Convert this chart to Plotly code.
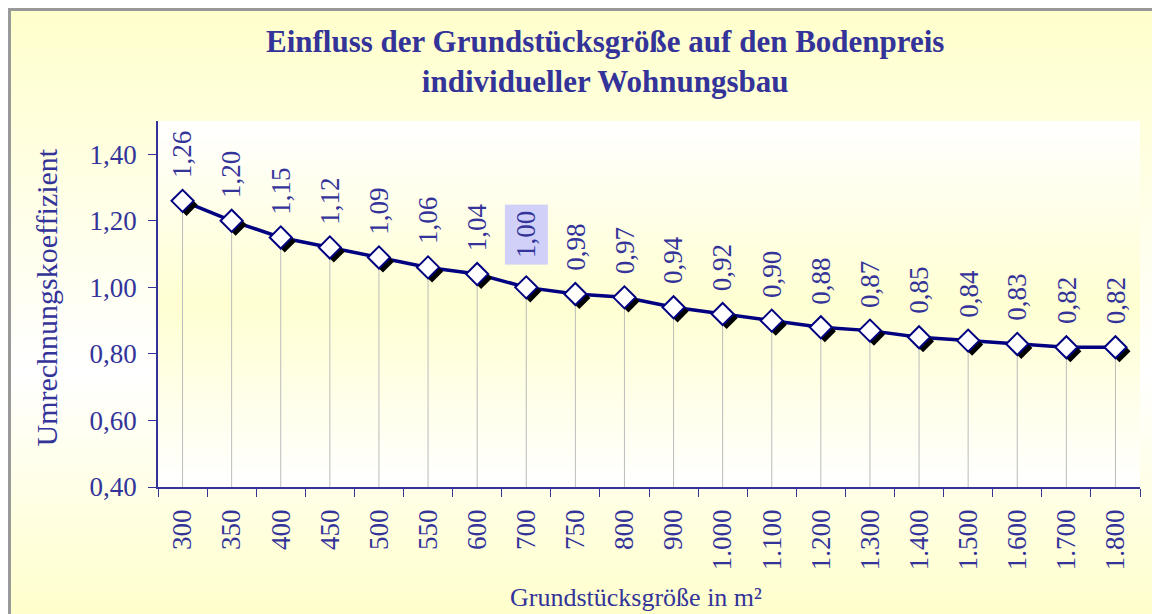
import base64
import plotly.graph_objects as go

# Grundstücksgröße (m²) und Umrechnungskoeffizient
groessen = ["300", "350", "400", "450", "500", "550", "600", "700", "750", "800",
            "900", "1.000", "1.100", "1.200", "1.300", "1.400", "1.500", "1.600",
            "1.700", "1.800"]
koeffizienten = [1.26, 1.20, 1.15, 1.12, 1.09, 1.06, 1.04, 1.00, 0.98, 0.97,
                 0.94, 0.92, 0.90, 0.88, 0.87, 0.85, 0.84, 0.83, 0.82, 0.82]
markiert = "700"  # hervorgehobenes Datenlabel

y_min, y_max = 0.40, 1.50
TXT = "#333399"
NAVY = "#000080"
FONT = "Liberation Serif"

# Plotbereich in Seitenpixeln (die Seite hat 8px Rand oben/links)
PL, PR, PT, PB = 158, 1140, 121, 487


def px(x):
    return (x - PL) / (PR - PL)


def py(y):
    return (PB - y) / (PB - PT)


def svg_gradient(stops):
    parts = "".join(
        f'<stop offset="{o}" stop-color="{c}"/>' for o, c in stops
    )
    svg = (
        '<svg xmlns="http://www.w3.org/2000/svg" width="100" height="100" '
        'preserveAspectRatio="none">'
        f'<defs><linearGradient id="g" x1="0" y1="0" x2="0" y2="1">{parts}'
        '</linearGradient></defs>'
        '<rect width="100" height="100" fill="url(#g)"/></svg>'
    )
    return "data:image/svg+xml;base64," + base64.b64encode(svg.encode()).decode()


idx = list(range(len(groessen)))
px_x = (PR - PL) / len(groessen)
px_y = (PB - PT) / (y_max - y_min)
shadow_x = [i + 4 / px_x for i in idx]
shadow_y = [v - 4 / px_y for v in koeffizienten]

fig = go.Figure()

# Lotlinien zur x-Achse (Kategorieachse)
fig.add_trace(go.Scatter(
    x=groessen, y=koeffizienten, mode="markers",
    marker=dict(size=1, color="rgba(0,0,0,0)"),
    error_y=dict(type="data", symmetric=False,
                 array=[0] * len(koeffizienten),
                 arrayminus=[v - y_min for v in koeffizienten],
                 color="#BBBBBB", thickness=1, width=0),
    hoverinfo="skip", showlegend=False,
))

fig.add_trace(go.Scatter(
    x=idx, y=koeffizienten, xaxis="x2", mode="lines",
    line=dict(color=NAVY, width=3.5),
    hoverinfo="skip", showlegend=False,
))

# Schatten der Marker
fig.add_trace(go.Scatter(
    x=shadow_x, y=shadow_y, xaxis="x2", mode="markers",
    marker=dict(symbol="diamond", size=17, color="black",
                line=dict(color="black", width=0)),
    hoverinfo="skip", showlegend=False,
))

fig.add_trace(go.Scatter(
    x=idx, y=koeffizienten, xaxis="x2", mode="markers",
    marker=dict(symbol="diamond", size=17, color="white",
                line=dict(color=NAVY, width=2)),
    customdata=groessen,
    hovertemplate="%{customdata} m²: %{y:.2f}<extra></extra>",
    showlegend=False,
))

annotations = []
for i, g, v in zip(idx, groessen, koeffizienten):
    lab = f"{v:.2f}".replace(".", ",")
    annotations.append(dict(
        x=i, y=v, xref="x2", yref="y", text=lab, showarrow=False,
        textangle=-90, yanchor="bottom", yshift=22,
        font=dict(family=FONT, size=27, color=TXT),
        bgcolor="#D0D0F8" if g == markiert else None,
        borderpad=6 if g == markiert else 0,
    ))

annotations += [
    dict(text="<b>Einfluss der Grundstücksgröße auf den Bodenpreis</b><br>"
              "<b>individueller Wohnungsbau</b>",
         xref="paper", yref="paper", x=px(605), y=py(62),
         showarrow=False, xanchor="center", yanchor="middle",
         font=dict(family=FONT, size=31, color=TXT)),
    dict(text="Grundstücksgröße in m²", xref="paper", yref="paper",
         x=px(636), y=py(614), showarrow=False,
         font=dict(family=FONT, size=26, color=TXT)),
    dict(text="Umrechnungskoeffizient", xref="paper", yref="paper",
         x=px(27), y=py(298), showarrow=False,
         textangle=-90, font=dict(family=FONT, size=30, color=TXT)),
]

fig.update_layout(
    width=1152, height=606,
    margin=dict(l=PL - 8, r=1160 - PR, t=PT - 8, b=614 - PB),
    paper_bgcolor="#FFFFCC",
    plot_bgcolor="rgba(0,0,0,0)",
    separators=",.",
    annotations=annotations,
    xaxis=dict(
        type="category", range=[-0.5, len(groessen) - 0.5],
        tickson="boundaries", ticks="outside", ticklen=8, tickcolor=TXT,
        tickangle=-90, ticklabelstandoff=10, showgrid=False, zeroline=False,
        showline=True, linecolor=TXT, linewidth=1.5,
        tickfont=dict(family=FONT, size=27, color=TXT),
    ),
    xaxis2=dict(
        overlaying="x", range=[-0.5, len(groessen) - 0.5],
        visible=False, showgrid=False, zeroline=False,
    ),
    yaxis=dict(
        range=[y_min, y_max], tick0=0.4, dtick=0.2, tickformat=".2f",
        ticks="outside", ticklen=8, tickcolor=TXT, ticklabelstandoff=6,
        showgrid=False, zeroline=False,
        showline=True, linecolor=TXT, linewidth=1.5,
        tickfont=dict(family=FONT, size=27, color=TXT),
    ),
    images=[
        dict(source=svg_gradient([(0, "#FFFFCC"), (0.6, "#FFFFFF"), (1, "#FFFFCC")]),
             xref="paper", yref="paper", x=px(9), y=py(9),
             sizex=(1155 - 9) / (PR - PL), sizey=(614 - 9) / (PB - PT),
             sizing="stretch", layer="below", xanchor="left", yanchor="top"),
        dict(source=svg_gradient([(0, "#FFFFFF"), (0.5, "#FFFFD2"), (1, "#FFFFFF")]),
             xref="paper", yref="paper", x=0, y=1, sizex=1, sizey=1,
             sizing="stretch", layer="below", xanchor="left", yanchor="top"),
    ],
    shapes=[
        dict(type="rect", xref="paper", yref="paper",
             x0=px(9.5), x1=px(1157), y0=py(640), y1=py(9.5),
             line=dict(color="#999999", width=3), layer="below"),
    ],
)

fig.write_html("out.html")
